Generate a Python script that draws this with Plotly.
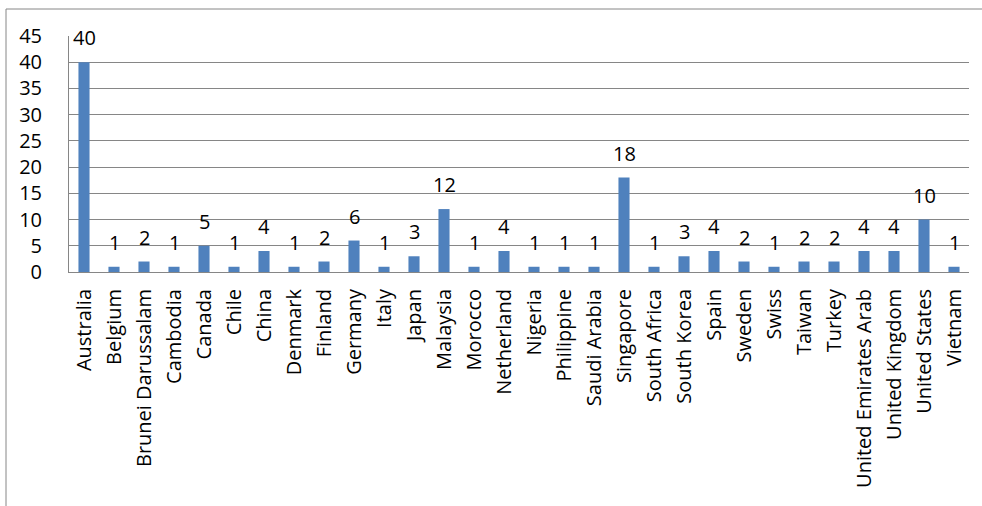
import plotly.graph_objects as go

countries = ["Australia", "Belgium", "Brunei Darussalam", "Cambodia", "Canada", "Chile",
             "China", "Denmark", "Finland", "Germany", "Italy", "Japan", "Malaysia",
             "Morocco", "Netherland", "Nigeria", "Philippine", "Saudi Arabia", "Singapore",
             "South Africa", "South Korea", "Spain", "Sweden", "Swiss", "Taiwan", "Turkey",
             "United Emirates Arab", "United Kingdom", "United States", "Vietnam"]
counts = [40, 1, 2, 1, 5, 1, 4, 1, 2, 6, 1, 3, 12, 1, 4, 1, 1, 1, 18, 1, 3, 4, 2, 1,
          2, 2, 4, 4, 10, 1]
y_ticks = [0, 5, 10, 15, 20, 25, 30, 35, 40, 45]

FONT = "Open Sans"
FS = 20
W, H = 982, 506
L, R, T, B = 69, 13, 36, 234

fig = go.Figure(go.Bar(
    x=countries, y=counts,
    marker=dict(color="#4F81BD", line=dict(width=0)),
    width=0.37, cliponaxis=False, hoverinfo="x+y",
))

# data labels placed above each bar
annotations = [
    dict(x=c, y=v, xref="x", yref="y", text=str(v), showarrow=False,
         yanchor="bottom", xanchor="center", yshift=9,
         font=dict(family=FONT, size=FS, color="black"))
    for c, v in zip(countries, counts)
]

pw, ph = W - L - R, H - T - B
def px_x(x):
    return (x - L) / pw
def px_y(y):
    return (H - B - y) / ph

fig.update_layout(
    width=W, height=H,
    margin=dict(l=L, r=R, t=T, b=B, pad=0, autoexpand=False),
    paper_bgcolor="white", plot_bgcolor="white",
    showlegend=False,
    font=dict(family=FONT, size=FS, color="black"),
    annotations=annotations,
    xaxis=dict(
        tickangle=-90, showgrid=False, showline=True, linecolor="#868686",
        linewidth=1, ticks="", ticklabelstandoff=8, automargin=False,
        tickfont=dict(family=FONT, size=FS),
    ),
    yaxis=dict(
        range=[0, 45], tickvals=y_ticks, showgrid=True, gridcolor="#868686",
        gridwidth=1, showline=True, linecolor="#868686", linewidth=1,
        ticks="", ticklabelstandoff=22, zeroline=False, automargin=False,
        tickfont=dict(family=FONT, size=FS),
    ),
    shapes=[
        dict(type="line", xref="paper", yref="paper",
             x0=px_x(6), x1=px_x(990), y0=px_y(9), y1=px_y(9),
             line=dict(color="#868686", width=1)),
        dict(type="line", xref="paper", yref="paper",
             x0=px_x(6), x1=px_x(6), y0=px_y(9), y1=px_y(510),
             line=dict(color="#868686", width=1)),
    ],
)

fig.write_html("out.html", config={"displayModeBar": False},
               post_script="document.body.style.margin='0';")
